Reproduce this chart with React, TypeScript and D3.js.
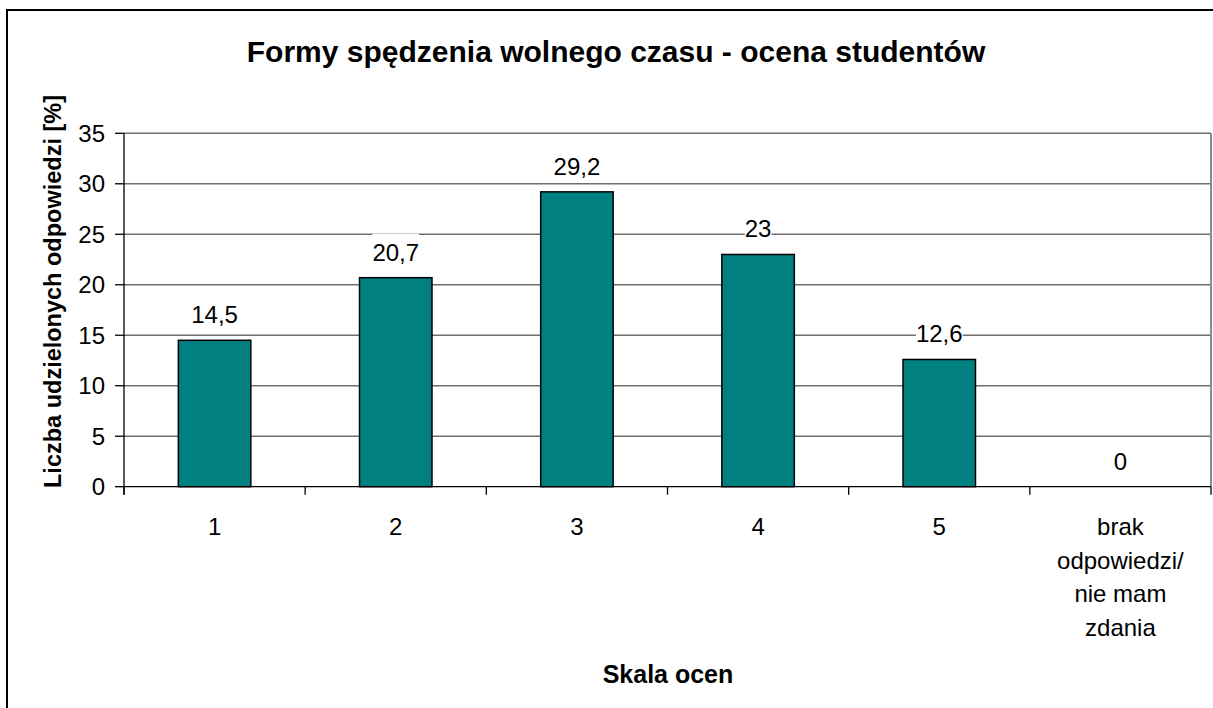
import React, { useEffect, useRef } from "react";
import * as d3 from "d3";

const categories = ["1", "2", "3", "4", "5", "brak"];
const categoryLines = [
  ["1"],
  ["2"],
  ["3"],
  ["4"],
  ["5"],
  ["brak", "odpowiedzi/", "nie mam", "zdania"],
];
const values = [14.5, 20.7, 29.2, 23, 12.6, 0];
const valueLabels = ["14,5", "20,7", "29,2", "23", "12,6", "0"];
const yTicks = [0, 5, 10, 15, 20, 25, 30, 35];

const chartTitle = "Formy spędzenia wolnego czasu - ocena studentów";
const yTitle = "Liczba udzielonych odpowiedzi [%]";
const xTitle = "Skala ocen";

const W = 1213;
const H = 708;
const FONT = "'Liberation Sans', Arial, sans-serif";

export default function App() {
  const ref = useRef<SVGSVGElement>(null);

  useEffect(() => {
    const svg = d3.select(ref.current);
    svg.selectAll("*").remove();

    const plot = { left: 124, right: 1211, top: 133.3, bottom: 486.7 };

    // outer chart frame
    svg
      .append("rect")
      .attr("x", 7)
      .attr("y", 10)
      .attr("width", W + 20)
      .attr("height", H + 20)
      .attr("fill", "#fff")
      .attr("stroke", "#000")
      .attr("stroke-width", 2);

    const x = d3
      .scaleBand()
      .domain(categories)
      .range([plot.left, plot.right])
      .paddingInner(0.6)
      .paddingOuter(0.3);
    const step = x.step();

    const y = d3.scaleLinear().domain([0, 35]).range([plot.bottom, plot.top]);

    // gridlines
    svg
      .append("g")
      .selectAll("line")
      .data(yTicks.filter((t) => t > 0))
      .enter()
      .append("line")
      .attr("x1", plot.left)
      .attr("x2", plot.right)
      .attr("y1", (d) => y(d))
      .attr("y2", (d) => y(d))
      .attr("stroke", "#6e6e6e")
      .attr("stroke-width", 1.5);

    // right plot border
    svg
      .append("line")
      .attr("x1", plot.right)
      .attr("x2", plot.right)
      .attr("y1", plot.top)
      .attr("y2", plot.bottom)
      .attr("stroke", "#8a8a8a")
      .attr("stroke-width", 2);

    // bars
    svg
      .append("g")
      .selectAll("rect")
      .data(values)
      .enter()
      .filter((d) => d > 0)
      .append("rect")
      .attr("x", (d, i) => x(categories[values.indexOf(d)]) as number)
      .attr("y", (d) => y(d))
      .attr("width", x.bandwidth())
      .attr("height", (d) => y(0) - y(d))
      .attr("fill", "#008080")
      .attr("stroke", "#000")
      .attr("stroke-width", 1.5);

    // y axis
    const yAxis = svg.append("g");
    yAxis
      .append("line")
      .attr("x1", plot.left)
      .attr("x2", plot.left)
      .attr("y1", plot.top)
      .attr("y2", plot.bottom + 8)
      .attr("stroke", "#000")
      .attr("stroke-width", 1.3);
    yTicks.forEach((t) => {
      yAxis
        .append("line")
        .attr("x1", plot.left - 9)
        .attr("x2", plot.left)
        .attr("y1", y(t))
        .attr("y2", y(t))
        .attr("stroke", "#000")
        .attr("stroke-width", 1.3);
      yAxis
        .append("text")
        .attr("x", plot.left - 19)
        .attr("y", y(t))
        .attr("dy", "0.36em")
        .attr("text-anchor", "end")
        .attr("font-family", FONT)
        .attr("font-size", 24)
        .text(t);
    });

    // x axis
    const xAxis = svg.append("g");
    xAxis
      .append("line")
      .attr("x1", plot.left)
      .attr("x2", plot.right)
      .attr("y1", plot.bottom)
      .attr("y2", plot.bottom)
      .attr("stroke", "#000")
      .attr("stroke-width", 1.3);
    d3.range(categories.length + 1).forEach((i) => {
      const xt = plot.left + i * step;
      xAxis
        .append("line")
        .attr("x1", xt)
        .attr("x2", xt)
        .attr("y1", plot.bottom)
        .attr("y2", plot.bottom + 8)
        .attr("stroke", "#000")
        .attr("stroke-width", 1.3);
    });
    categories.forEach((c, i) => {
      const cx = (x(c) as number) + x.bandwidth() / 2;
      const t = xAxis
        .append("text")
        .attr("text-anchor", "middle")
        .attr("font-family", FONT)
        .attr("font-size", 24);
      categoryLines[i].forEach((line, j) => {
        t.append("tspan")
          .attr("x", cx)
          .attr("y", 535 + j * 33.7)
          .text(line);
      });
    });

    // value labels with white box
    const labels = svg.append("g");
    values.forEach((v, i) => {
      const cx = (x(categories[i]) as number) + x.bandwidth() / 2;
      const by = y(v) - 17;
      const bg = labels.append("rect").attr("fill", "#fff");
      const t = labels
        .append("text")
        .attr("x", cx)
        .attr("y", by)
        .attr("text-anchor", "middle")
        .attr("font-family", FONT)
        .attr("font-size", 24)
        .text(valueLabels[i]);
      const w = (t.node() as SVGTextElement).getComputedTextLength();
      bg.attr("x", cx - w / 2)
        .attr("y", by - 27)
        .attr("width", w)
        .attr("height", 33);
    });

    // titles
    svg
      .append("text")
      .attr("x", 616)
      .attr("y", 62)
      .attr("text-anchor", "middle")
      .attr("font-family", FONT)
      .attr("font-weight", "bold")
      .attr("font-size", 30)
      .text(chartTitle);

    svg
      .append("text")
      .attr("transform", "translate(61,291.5) rotate(-90)")
      .attr("text-anchor", "middle")
      .attr("font-family", FONT)
      .attr("font-weight", "bold")
      .attr("font-size", 23.5)
      .text(yTitle);

    svg
      .append("text")
      .attr("x", 668)
      .attr("y", 683)
      .attr("text-anchor", "middle")
      .attr("font-family", FONT)
      .attr("font-weight", "bold")
      .attr("font-size", 25)
      .text(xTitle);
  }, []);

  return (
    <svg
      ref={ref}
      width={W}
      height={H}
      style={{ position: "absolute", left: 0, top: 0, background: "#fff" }}
    />
  );
}
